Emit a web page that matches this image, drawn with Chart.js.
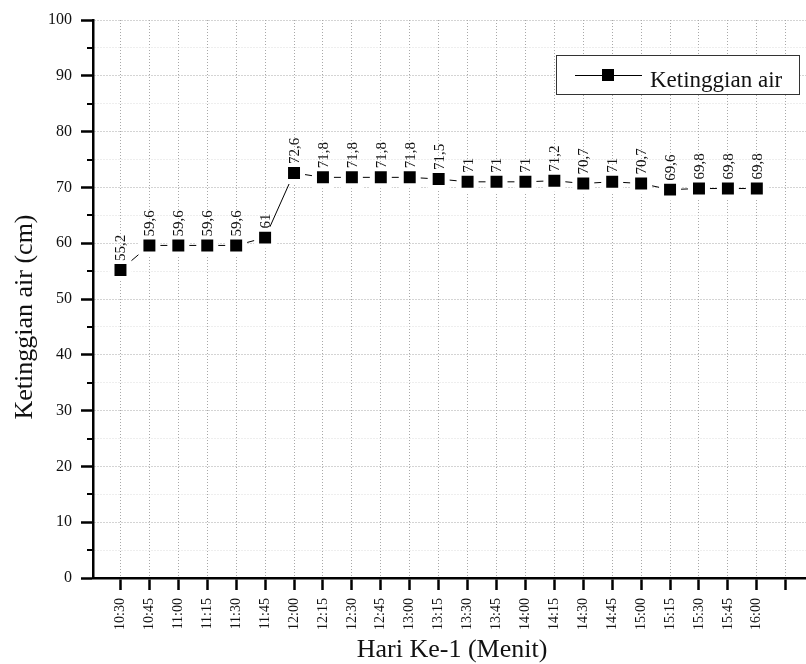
<!DOCTYPE html>
<html>
<head>
<meta charset="utf-8">
<script src="https://cdn.jsdelivr.net/npm/chart.js@4.4.0/dist/chart.umd.min.js"></script>
<style>
    html, body { margin: 0; background: #fff; overflow: hidden; }
    .chart-box { width: 806px; height: 664px; position: relative; background: #fff; }
    canvas { display: block; }
</style>
</head>
<body>
<div class="chart-box"><canvas id="waterChart"></canvas></div>
<script>
// Data
const timeLabels = ['10:30', '10:45', '11:00', '11:15', '11:30', '11:45', '12:00', '12:15',
    '12:30', '12:45', '13:00', '13:15', '13:30', '13:45', '14:00', '14:15', '14:30',
    '14:45', '15:00', '15:15', '15:30', '15:45', '16:00', ''];
const waterLevel = [55.2, 59.6, 59.6, 59.6, 59.6, 61, 72.6, 71.8, 71.8, 71.8, 71.8, 71.5,
    71, 71, 71, 71.2, 70.7, 71, 70.7, 69.6, 69.8, 69.8, 69.8];
const yTicks = [0, 5, 10, 15, 20, 25, 30, 35, 40, 45, 50, 55, 60, 65, 70, 75, 80, 85, 90, 95, 100];
const seriesName = 'Ketinggian air';
const yTitle = 'Ketinggian air (cm)';
const xTitle = 'Hari Ke-1 (Menit)';

const serif = "'Liberation Serif', 'Times New Roman', serif";

// Rotated value labels above each point, plus titles, legend, minor ticks
const extrasPlugin = {
    id: 'extras',
    afterDatasetsDraw(chart) {
        const ctx = chart.ctx;
        const meta = chart.getDatasetMeta(0);
        ctx.save();
        ctx.fillStyle = '#111';
        ctx.font = '15px ' + serif;
        ctx.textAlign = 'left';
        ctx.textBaseline = 'middle';
        meta.data.forEach((pt, i) => {
            ctx.save();
            ctx.translate(pt.x + 1, pt.y - 9);
            ctx.rotate(-Math.PI / 2);
            ctx.fillText(String(waterLevel[i]).replace('.', ','), 0, 0);
            ctx.restore();
        });
        ctx.restore();
    },
    afterDraw(chart) {
        const ctx = chart.ctx;
        const y = chart.scales.y;
        const area = chart.chartArea;
        ctx.save();
        // minor y ticks
        ctx.strokeStyle = '#000';
        ctx.lineWidth = 2;
        yTicks.filter(v => v % 10 !== 0).forEach(v => {
            const py = Math.round(y.getPixelForValue(v));
            ctx.beginPath();
            ctx.moveTo(area.left - 6, py);
            ctx.lineTo(area.left, py);
            ctx.stroke();
        });

        // axis titles
        ctx.fillStyle = '#111';
        ctx.font = '26px ' + serif;
        ctx.textAlign = 'center';
        ctx.textBaseline = 'alphabetic';
        ctx.fillText(xTitle, 452, 657);
        ctx.save();
        ctx.translate(32, 317);
        ctx.rotate(-Math.PI / 2);
        ctx.fillText(yTitle, 0, 0);
        ctx.restore();

        // legend box
        ctx.fillStyle = '#fff';
        ctx.fillRect(556, 55, 243, 39);
        ctx.strokeStyle = '#333';
        ctx.lineWidth = 1;
        ctx.strokeRect(556.5, 55.5, 243, 39);
        ctx.strokeStyle = '#000';
        ctx.beginPath();
        ctx.moveTo(575, 75.5);
        ctx.lineTo(642, 75.5);
        ctx.stroke();
        ctx.fillStyle = '#000';
        ctx.fillRect(602, 69, 12, 12);
        ctx.fillStyle = '#111';
        ctx.font = '23px ' + serif;
        ctx.textAlign = 'left';
        ctx.fillText(seriesName, 650, 87);
        ctx.restore();
    }
};

const ctx = document.getElementById('waterChart').getContext('2d');
new Chart(ctx, {
    type: 'line',
    data: {
        datasets: [{
            label: seriesName,
            data: waterLevel.map((v, i) => ({ x: i, y: v })),
            borderColor: '#000',
            borderWidth: 1,
            pointStyle: 'rect',
            pointRadius: 12,
            pointBackgroundColor: '#000',
            pointBorderColor: '#fff',
            pointBorderWidth: 5,
            tension: 0
        }]
    },
    options: {
        responsive: true,
        maintainAspectRatio: false,
        animation: false,
        layout: { autoPadding: false, padding: { top: 20, right: 0, left: 0, bottom: 0 } },
        plugins: {
            legend: { display: false },
            tooltip: { enabled: false }
        },
        scales: {
            x: {
                type: 'linear',
                min: -0.95,
                max: 23.7,
                afterBuildTicks: s => { s.ticks = timeLabels.map((_, i) => ({ value: i })); },
                afterFit: s => { s.height = 86; s.paddingLeft = 0; s.paddingRight = 0; },
                ticks: {
                    autoSkip: false,
                    minRotation: 90,
                    maxRotation: 90,
                    padding: 8,
                    color: '#111',
                    font: { family: serif, size: 14 },
                    callback: v => timeLabels[v] || ''
                },
                grid: {
                    color: '#a8a8a8',
                    tickColor: '#000',
                    tickLength: 12,
                    tickWidth: 2.5
                },
                border: { color: '#000', width: 2.5, dash: [1, 2] }
            },
            y: {
                min: 0,
                max: 100,
                afterBuildTicks: s => { s.ticks = yTicks.map(v => ({ value: v })); },
                afterFit: s => { s.width = 93; s.paddingTop = 0; s.paddingBottom = 0; },
                ticks: {
                    padding: 9,
                    color: '#111',
                    font: { family: serif, size: 16 },
                    callback: v => (v % 10 === 0 ? v : '')
                },
                grid: {
                    color: c => (c.tick && c.tick.value % 10 === 0 ? '#a8a8a8' : '#dcdcdc'),
                    tickColor: c => (c.tick && c.tick.value % 10 === 0 ? '#000' : 'rgba(0,0,0,0)'),
                    tickLength: 12,
                    tickWidth: 2.5
                },
                border: { color: '#000', width: 2.5, dash: [1, 2] }
            }
        }
    },
    plugins: [extrasPlugin]
});
</script>
</body>
</html>
